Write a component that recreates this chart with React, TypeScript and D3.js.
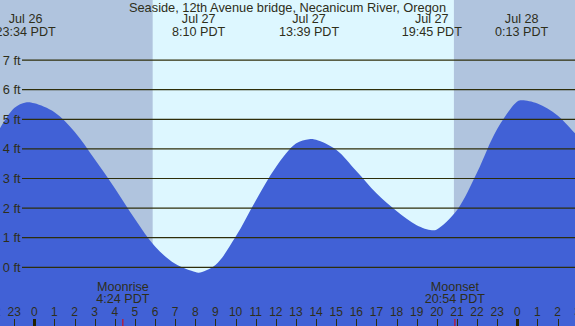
import React from 'react';
import * as d3 from 'd3';

const title = 'Seaside, 12th Avenue bridge, Necanicum River, Oregon';

// hours after Jul 27 00:00 PDT, tide height in feet
const tideHours = [-2, -1, -0.43, 0, 1, 2, 3, 4, 5, 6, 7, 8, 8.17, 9, 10, 11, 12, 13, 13.65, 14, 15, 16, 17, 18, 19, 19.75, 20, 21, 22, 23, 24, 24.22, 25, 26, 27];
const tideFeet = [4.35, 5.38, 5.57, 5.54, 5.24, 4.58, 3.65, 2.67, 1.63, 0.7, 0.12, -0.16, -0.18, 0.08, 1.03, 2.25, 3.38, 4.18, 4.33, 4.31, 3.97, 3.25, 2.5, 1.9, 1.42, 1.25, 1.28, 1.93, 3.2, 4.67, 5.6, 5.64, 5.53, 5.13, 4.42];

// high / low tide labels along the top
const extremeDays = ['Jul 26', 'Jul 27', 'Jul 27', 'Jul 27', 'Jul 28'];
const extremeTimes = ['23:34', '8:10', '13:39', '19:45', '0:13'];
const extremeDayOffset = [-1, 0, 0, 0, 1];

// daylight (sunrise, sunset) in hours after Jul 27 00:00
const sunrise = 5.88;
const sunset = 20.85;

const moonLabels = ['Moonrise', 'Moonset'];
const moonTimes = ['4:24', '20:54'];

const feetTicks = [0, 1, 2, 3, 4, 5, 6, 7];
const hourTicks = d3.range(-2, 28);

const W = 575;
const H = 326;
const font = "'Liberation Sans', Arial, sans-serif";
const textColor = '#2e2e1a';
const lineColor = '#2e2e0a';

const toHours = (t: string, dayOffset = 0) => {
  const [h, m] = t.split(':').map(Number);
  return dayOffset * 24 + h + m / 60;
};

export default function App() {
  const x = d3.scaleLinear().domain([0, 24]).range([34.33, 517.3]);
  const y = d3.scaleLinear().domain([0, 7]).range([267.3, 60.1]);

  const points = tideHours.map((h, i) => [h, tideFeet[i]] as [number, number]);
  const area = d3.area<[number, number]>()
    .x(d => x(d[0]))
    .y0(H)
    .y1(d => y(d[1]))
    .curve(d3.curveCatmullRom.alpha(0.5));

  return (
    <svg width={W} height={H} style={{ position: 'absolute', left: 0, top: 0 }} fontFamily={font}>
      {/* night / day background */}
      <rect x={0} y={0} width={W} height={H} fill="#b0c4de" />
      <rect x={x(sunrise)} y={0} width={x(sunset) - x(sunrise)} height={H} fill="#ddf7ff" />

      {/* water */}
      <path d={area(points) || ''} fill="#4161d6" />

      {/* height grid */}
      {feetTicks.map(f => (
        <g key={f}>
          <line x1={22} x2={W} y1={y(f)} y2={y(f)} stroke={lineColor} strokeWidth={1.2} />
          <text x={20.5} y={y(f)} dy="0.35em" textAnchor="end" fontSize={12.8} fill={textColor}>{f} ft</text>
        </g>
      ))}

      {/* title and extremes */}
      <text x={W / 2} y={11.5} textAnchor="middle" fontSize={12.8} fill={textColor}>{title}</text>
      {extremeTimes.map((t, i) => {
        const cx = x(toHours(t, extremeDayOffset[i]));
        return (
          <g key={t} fontSize={12.6} fill={textColor} textAnchor="middle">
            <text x={cx} y={22.5}>{extremeDays[i]}</text>
            <text x={cx} y={36}>{t} PDT</text>
          </g>
        );
      })}

      {/* moon */}
      {moonTimes.map((t, i) => {
        const cx = x(toHours(t));
        return (
          <g key={t} fontSize={12.6} fill={textColor} textAnchor="middle">
            <text x={cx} y={291}>{moonLabels[i]}</text>
            <text x={cx} y={303}>{t} PDT</text>
            <line x1={cx} x2={cx} y1={319} y2={H} stroke="#e00000" strokeWidth={1} />
          </g>
        );
      })}

      {/* hour axis */}
      {hourTicks.map(h => {
        const hx = Math.round(x(h)) + 0.5;
        const midnight = h % 24 === 0;
        return (
          <g key={h}>
            <line x1={hx} x2={hx} y1={319} y2={H} stroke={midnight ? '#222200' : lineColor} strokeWidth={midnight ? 3 : 1} />
            <text x={x(h)} y={316} textAnchor="middle" fontSize={12} fill={textColor}>{((h % 24) + 24) % 24}</text>
          </g>
        );
      })}
    </svg>
  );
}
